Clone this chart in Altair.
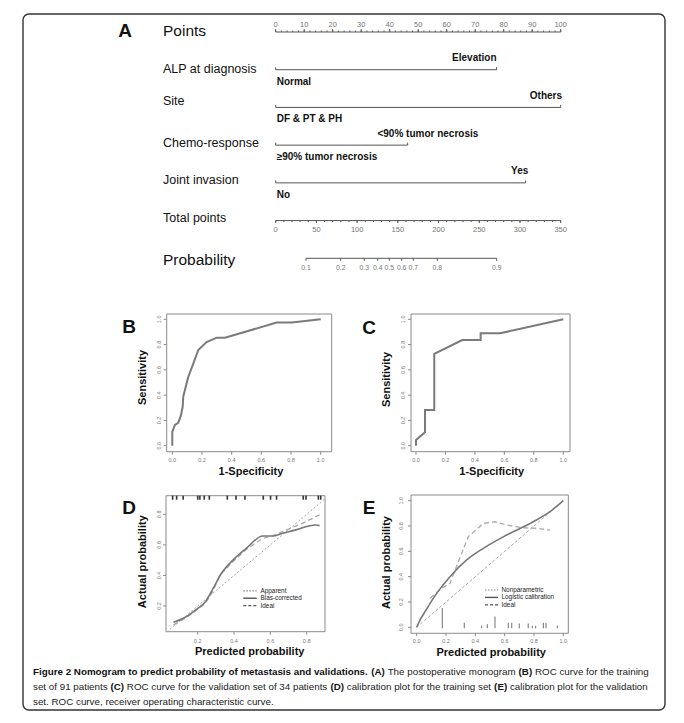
import altair as alt
import pandas as pd

M = 8                      # page margin of the browser
FONT = "Liberation Sans"


def P(v):
    """page pixel -> chart pixel"""
    return round(v - M, 2)


# ======================= DATA =======================
# ---- Panel A : nomogram ----
row_names = ["Points", "ALP at diagnosis", "Site", "Chemo-response",
             "Joint invasion", "Total points", "Probability"]
row_name_pos = [-0.034, 0.989, 1.83, 2.935, 3.924, 4.939, 6.045]
row_name_size = [15.5, 12.5, 12.5, 12.5, 12.5, 12.5, 15.5]

predictor_rows = [1, 2, 3, 4]
predictor_max_points = [77.5, 100, 46.3, 87.7]
upper_levels = ["Elevation", "Others", "<90% tumor necrosis", "Yes"]
upper_level_pos = [69.7, 94.8, 53.4, 85.6]
lower_levels = ["Normal", "DF & PT & PH", "≥90% tumor necrosis", "No"]
lower_level_pos = [0.35, 0.35, 0.35, 0.35]

points_major = [0, 10, 20, 30, 40, 50, 60, 70, 80, 90, 100]
points_minor = [0, 2, 4, 6, 8, 10, 12, 14, 16, 18, 20, 22, 24, 26, 28, 30, 32, 34,
                36, 38, 40, 42, 44, 46, 48, 50, 52, 54, 56, 58, 60, 62, 64, 66, 68,
                70, 72, 74, 76, 78, 80, 82, 84, 86, 88, 90, 92, 94, 96, 98, 100]
total_major = [0, 50, 100, 150, 200, 250, 300, 350]
total_minor = [0, 10, 20, 30, 40, 50, 60, 70, 80, 90, 100, 110, 120, 130, 140, 150,
               160, 170, 180, 190, 200, 210, 220, 230, 240, 250, 260, 270, 280, 290,
               300, 310, 320, 330, 340, 350]
prob_labels = ["0.1", "0.2", "0.3", "0.4", "0.5", "0.6", "0.7", "0.8", "0.9"]
prob_total_points = [37.2, 79.8, 108.8, 125.3, 139.5, 154.7, 169.0, 198.5, 271.4]

# ---- Panel B : ROC training ----
rocB_fpr = [0, 0, 0.018, 0.04, 0.058, 0.07, 0.074, 0.108, 0.142, 0.175, 0.231, 0.30,
            0.355, 0.703, 0.805, 1.0]
rocB_tpr = [0, 0.11, 0.164, 0.18, 0.24, 0.31, 0.39, 0.546, 0.652, 0.757, 0.82, 0.855,
            0.855, 0.974, 0.974, 1.0]

# ---- Panel C : ROC validation ----
rocC_fpr = [0, 0, 0.061, 0.061, 0.124, 0.124, 0.314, 0.439, 0.439, 0.57, 1.0]
rocC_tpr = [0, 0.045, 0.106, 0.282, 0.282, 0.726, 0.836, 0.836, 0.889, 0.889, 1.0]

# ---- Panel D : calibration training ----
calD_bc_pred = [0.067, 0.131, 0.195, 0.24, 0.285, 0.331, 0.404, 0.467, 0.558, 0.613,
                0.667, 0.74, 0.813, 0.849, 0.871]
calD_bc_act = [0.093, 0.126, 0.18, 0.224, 0.316, 0.414, 0.512, 0.577, 0.658, 0.658,
               0.676, 0.698, 0.724, 0.73, 0.726]
calD_app_pred = [0.067, 0.131, 0.195, 0.24, 0.285, 0.322, 0.404, 0.467, 0.558, 0.613,
                 0.667, 0.776, 0.871]
calD_app_act = [0.076, 0.12, 0.174, 0.215, 0.3, 0.403, 0.502, 0.57, 0.643, 0.66,
                0.687, 0.741, 0.796]
ideal_D = [0.03, 0.9]
rugD = [0.062, 0.084, 0.12, 0.2, 0.212, 0.236, 0.264, 0.363, 0.411, 0.46, 0.561,
        0.601, 0.634, 0.781, 0.796, 0.864, 0.877]

# ---- Panel E : calibration validation ----
calE_log_pred = [0, 0.023, 0.057, 0.136, 0.227, 0.341, 0.455, 0.614, 0.795, 0.909, 1.0]
calE_log_act = [0, 0.058, 0.124, 0.268, 0.4, 0.532, 0.624, 0.729, 0.834, 0.913, 1.0]
calE_np_pred = [0.091, 0.17, 0.227, 0.284, 0.352, 0.455, 0.534, 0.614, 0.716, 0.818, 0.909]
calE_np_act = [0.229, 0.308, 0.347, 0.518, 0.716, 0.821, 0.834, 0.808, 0.787, 0.782, 0.768]
ideal_E = [0.0, 1.0]
spikeE_pos = [0.175, 0.325, 0.443, 0.482, 0.534, 0.625, 0.648, 0.7, 0.761, 0.789,
              0.811, 0.864, 0.882, 0.959]
spikeE_h = [0.153, 0.035, 0.015, 0.025, 0.085, 0.035, 0.035, 0.03, 0.03, 0.012,
            0.012, 0.035, 0.035, 0.015]

unit_ticks = [0, 0.2, 0.4, 0.6, 0.8, 1.0]
unit_tick_labels = ["0.0", "0.2", "0.4", "0.6", "0.8", "1.0"]
cal_ticks = [0.2, 0.4, 0.6, 0.8]
cal_tick_labels = ["0.2", "0.4", "0.6", "0.8"]

caption_lines = [
    [("Figure 2 Nomogram to predict probability of metastasis and validations.", True),
     (" (A)", True), (" The postoperative monogram ", False), ("(B)", True),
     (" ROC curve for the training", False)],
    [("set of 91 patients ", False), ("(C)", True),
     (" ROC curve for the validation set of 34 patients ", False), ("(D)", True),
     (" calibration plot for the training set ", False), ("(E)", True),
     (" calibration plot for the validation", False)],
    [("set. ROC curve, receiver operating characteristic curve.", False)],
]

# ======================= LAYOUT (page pixels) =======================
A_X = (275.7, 560.7)
A_Y = (32.0, 258.3)
GEOM = {
    "B": dict(frame=(166.7, 331.7, 314, 451.7), xr=(172.3, 320.7), yr=(445.7, 319.3),
              dom=(0, 1), xlab_y=460, ylab_x=159.3),
    "C": dict(frame=(411, 570, 314, 451.7), xr=(416, 563.3), yr=(445.7, 319.3),
              dom=(0, 1), xlab_y=460, ylab_x=403.3),
    "D": dict(frame=(166, 325, 495.7, 631.7), xr=(197.7, 306.7), yr=(606, 514.3),
              dom=(0.2, 0.8), xlab_y=641, ylab_x=159.3),
    "E": dict(frame=(411, 568.3, 495, 633.3), xr=(416.7, 563.3), yr=(627.3, 500.7),
              dom=(0, 1), xlab_y=641, ylab_x=400.5),
}

LINE_C = "#555"
TICKLAB_C = "#777"
FRAME_C = "#8a8a8a"


def sc(domain, rng):
    return alt.Scale(domain=list(domain), range=[P(rng[0]), P(rng[1])], nice=False, zero=False)


def X(f, s):
    return alt.X(f, scale=s, axis=None)


def Y(f, s):
    return alt.Y(f, scale=s, axis=None)


ONE = pd.DataFrame({"k": [0]})


def label(text, x, y, size, weight="normal", angle=0, align="center", color="#111"):
    kw = dict(align=align, baseline="middle", fontSize=size, fontWeight=weight, color=color)
    if angle:
        kw["angle"] = angle
    return alt.Chart(pd.DataFrame({"t": [text]})).mark_text(**kw).encode(
        x=alt.value(P(x)), y=alt.value(P(y)), text="t:N")


def hline(x1, x2, y, color, width=1.0, dash=None):
    kw = dict(color=color, strokeWidth=width)
    if dash:
        kw["strokeDash"] = dash
    return alt.Chart(ONE).mark_rule(**kw).encode(
        x=alt.value(P(x1)), x2=alt.value(P(x2)), y=alt.value(P(y)))


# ======================= PANEL A =======================
xA = sc((0, 100), A_X)
xT = sc((0, 350), A_X)
yA = sc((0, 6), A_Y)

dfA_lines = pd.DataFrame({"row": [0] + predictor_rows, "s": 0.0,
                          "e": [100] + predictor_max_points})
dfA_ends = pd.DataFrame({"row": predictor_rows * 2,
                         "v": [0] * len(predictor_rows) + predictor_max_points})
dfA_maj = pd.DataFrame({"v": points_major, "row": 0, "lab": [str(v) for v in points_major]})
dfA_min = pd.DataFrame({"v": points_minor, "row": 0})
dfA_names = pd.DataFrame({"t": row_names, "ry": row_name_pos, "fs": row_name_size})
dfA_up = pd.DataFrame({"t": upper_levels, "row": predictor_rows, "v": upper_level_pos})
dfA_lo = pd.DataFrame({"t": lower_levels, "row": predictor_rows, "v": lower_level_pos})

panelA = alt.layer(
    alt.Chart(dfA_lines).mark_rule(color=LINE_C, strokeWidth=1).encode(
        x=X("s:Q", xA), x2=alt.X2("e"), y=Y("row:Q", yA)),
    alt.Chart(dfA_ends).mark_rule(color=LINE_C, strokeWidth=1, y2Offset=-2.5).encode(
        x=X("v:Q", xA), y=Y("row:Q", yA), y2=alt.Y2("row")),
    alt.Chart(dfA_min).mark_rule(color=LINE_C, strokeWidth=1, y2Offset=-1.5).encode(
        x=X("v:Q", xA), y=Y("row:Q", yA), y2=alt.Y2("row")),
    alt.Chart(dfA_maj).mark_rule(color=LINE_C, strokeWidth=1, y2Offset=-3).encode(
        x=X("v:Q", xA), y=Y("row:Q", yA), y2=alt.Y2("row")),
    alt.Chart(dfA_maj).mark_text(fontSize=7.5, color=TICKLAB_C, dy=-7, baseline="middle").encode(
        x=X("v:Q", xA), y=Y("row:Q", yA), text="lab:N"),
    alt.Chart(dfA_names).mark_text(align="left", baseline="middle", color="#111").encode(
        x=alt.value(P(163)), y=Y("ry:Q", yA), text="t:N",
        size=alt.Size("fs:Q", scale=None, legend=None)),
    alt.Chart(dfA_up).mark_text(align="center", baseline="middle", dy=-11.5, fontSize=10,
                                fontWeight="bold", color="#111").encode(
        x=X("v:Q", xA), y=Y("row:Q", yA), text="t:N"),
    alt.Chart(dfA_lo).mark_text(align="left", baseline="middle", dy=12, fontSize=10,
                                fontWeight="bold", color="#111").encode(
        x=X("v:Q", xA), y=Y("row:Q", yA), text="t:N"),
)

dfT_line = pd.DataFrame({"s": [0], "e": [350], "row": [5]})
dfT_maj = pd.DataFrame({"v": total_major, "row": 5, "lab": [str(v) for v in total_major]})
dfT_min = pd.DataFrame({"v": total_minor, "row": 5})
dfP_line = pd.DataFrame({"s": [prob_total_points[0]], "e": [prob_total_points[-1]], "row": [6]})
dfP = pd.DataFrame({"v": prob_total_points, "row": 6, "lab": prob_labels})

panelT = alt.layer(
    alt.Chart(dfT_line).mark_rule(color=LINE_C, strokeWidth=1).encode(
        x=X("s:Q", xT), x2=alt.X2("e"), y=Y("row:Q", yA)),
    alt.Chart(dfT_min).mark_rule(color=LINE_C, strokeWidth=1, y2Offset=1.5).encode(
        x=X("v:Q", xT), y=Y("row:Q", yA), y2=alt.Y2("row")),
    alt.Chart(dfT_maj).mark_rule(color=LINE_C, strokeWidth=1, y2Offset=2.5).encode(
        x=X("v:Q", xT), y=Y("row:Q", yA), y2=alt.Y2("row")),
    alt.Chart(dfT_maj).mark_text(fontSize=7.5, color=TICKLAB_C, dy=9.5, baseline="middle").encode(
        x=X("v:Q", xT), y=Y("row:Q", yA), text="lab:N"),
    alt.Chart(dfP_line).mark_rule(color=LINE_C, strokeWidth=1).encode(
        x=X("s:Q", xT), x2=alt.X2("e"), y=Y("row:Q", yA)),
    alt.Chart(dfP).mark_rule(color=LINE_C, strokeWidth=1, y2Offset=2.5).encode(
        x=X("v:Q", xT), y=Y("row:Q", yA), y2=alt.Y2("row")),
    alt.Chart(dfP).mark_text(fontSize=6.8, color=TICKLAB_C, dy=9.5, baseline="middle").encode(
        x=X("v:Q", xT), y=Y("row:Q", yA), text="lab:N"),
)


# ======================= XY PANELS =======================
def curve_df(xs, ys):
    return pd.DataFrame({"x": xs, "y": ys, "i": list(range(len(xs)))})


def xy_panel(key, ticks, tick_labels, curves, extra=()):
    g = GEOM[key]
    l, r, t, b = g["frame"]
    xs = sc(g["dom"], g["xr"])
    ys = sc(g["dom"], g["yr"])
    dft = pd.DataFrame({"v": ticks, "lab": tick_labels})
    parts = [
        alt.Chart(ONE).mark_rect(fillOpacity=0, stroke=FRAME_C, strokeWidth=1).encode(
            x=alt.value(P(l)), x2=alt.value(P(r)), y=alt.value(P(t)), y2=alt.value(P(b))),
        alt.Chart(dft).mark_rule(color=FRAME_C, strokeWidth=1).encode(
            x=X("v:Q", xs), y=alt.value(P(b)), y2=alt.value(P(b + 3))),
        alt.Chart(dft).mark_text(fontSize=5.5, color=TICKLAB_C, baseline="middle").encode(
            x=X("v:Q", xs), y=alt.value(P(g["xlab_y"])), text="lab:N"),
        alt.Chart(dft).mark_rule(color=FRAME_C, strokeWidth=1).encode(
            y=Y("v:Q", ys), x=alt.value(P(l - 3)), x2=alt.value(P(l))),
        alt.Chart(dft).mark_text(fontSize=5.5, color=TICKLAB_C, baseline="middle", angle=270).encode(
            y=Y("v:Q", ys), x=alt.value(P(g["ylab_x"])), text="lab:N"),
    ]
    for df, style in curves:
        parts.append(alt.Chart(df).mark_line(**style).encode(
            x=X("x:Q", xs), y=Y("y:Q", ys), order=alt.Order("i:Q")))
    for fn in extra:
        parts.append(fn(xs, ys))
    return alt.layer(*parts)


roc_style = dict(color="#7a7a7a", strokeWidth=2)
panelB = xy_panel("B", unit_ticks, unit_tick_labels, [(curve_df(rocB_fpr, rocB_tpr), roc_style)])
panelC = xy_panel("C", unit_ticks, unit_tick_labels, [(curve_df(rocC_fpr, rocC_tpr), roc_style)])


def rugD_layer(xs, ys):
    top = GEOM["D"]["frame"][2]
    return alt.Chart(pd.DataFrame({"v": rugD})).mark_rule(color="#333", strokeWidth=1.6).encode(
        x=X("v:Q", xs), y=alt.value(P(top)), y2=alt.value(P(top + 4)))


panelD = xy_panel("D", cal_ticks, cal_tick_labels, [
    (curve_df(ideal_D, ideal_D), dict(color="#aaa", strokeWidth=1, strokeDash=[2, 2])),
    (curve_df(calD_app_pred, calD_app_act), dict(color="#aaa", strokeWidth=1.4, strokeDash=[5, 3])),
    (curve_df(calD_bc_pred, calD_bc_act), dict(color="#777", strokeWidth=1.6, interpolate="monotone")),
], extra=[rugD_layer])


def spikesE_layer(xs, ys):
    df = pd.DataFrame({"v": spikeE_pos, "h": spikeE_h, "b": -0.008})
    return alt.Chart(df).mark_rule(color="#888", strokeWidth=1.2).encode(
        x=X("v:Q", xs), y=Y("b:Q", ys), y2=alt.Y2("h"))


panelE = xy_panel("E", unit_ticks, unit_tick_labels, [
    (curve_df(ideal_E, ideal_E), dict(color="#aaa", strokeWidth=1, strokeDash=[3, 2])),
    (curve_df(calE_np_pred, calE_np_act), dict(color="#b0b0b0", strokeWidth=1.4, strokeDash=[5, 3])),
    (curve_df(calE_log_pred, calE_log_act), dict(color="#777", strokeWidth=1.6, interpolate="monotone")),
], extra=[spikesE_layer])

# ======================= TEXT DECORATION =======================
LEG_FS = 6.4
LEG_D_Y = [590.8, 598.2, 605.6]
LEG_E_Y = [590.0, 597.4, 604.8]
deco = [
    alt.Chart(ONE).mark_rect(fillOpacity=0, stroke="#333", strokeWidth=1.4, cornerRadius=6).encode(
        x=alt.value(P(23)), x2=alt.value(P(665)), y=alt.value(P(14)), y2=alt.value(P(710))),
    label("A", 125, 31, 19, "bold"),
    label("B", 129, 326.5, 19, "bold"),
    label("C", 369, 327.5, 19, "bold"),
    label("D", 129, 507.5, 19, "bold"),
    label("E", 369, 507.5, 19, "bold"),
    label("Sensitivity", 143.3, 377.5, 11, "bold", angle=270),
    label("1-Specificity", 251, 471.7, 11, "bold"),
    label("Sensitivity", 387.3, 379.5, 11, "bold", angle=270),
    label("1-Specificity", 491.7, 471.7, 11, "bold"),
    label("Actual probability", 143.3, 561.7, 11, "bold", angle=270),
    label("Predicted probability", 249.7, 651.7, 11, "bold"),
    label("Actual probability", 387.3, 562.5, 11, "bold", angle=270),
    label("Predicted probability", 491.2, 653.3, 11, "bold"),
    # legend D
    hline(243.3, 256.7, LEG_D_Y[0], "#888", 1.2, [1.5, 1.5]),
    hline(243.3, 256.7, LEG_D_Y[1], "#555", 1.4),
    hline(243.3, 256.7, LEG_D_Y[2], "#555", 1.2, [3, 2]),
    label("Apparent", 260.5, LEG_D_Y[0], LEG_FS, align="left", color="#222"),
    label("Bias-corrected", 260.5, LEG_D_Y[1], LEG_FS, align="left", color="#222"),
    label("Ideal", 260.5, LEG_D_Y[2], LEG_FS, align="left", color="#222"),
    # legend E
    hline(485, 498, LEG_E_Y[0], "#888", 1.2, [1.5, 1.5]),
    hline(485, 498, LEG_E_Y[1], "#555", 1.4),
    hline(485, 498, LEG_E_Y[2], "#555", 1.2, [3, 2]),
    label("Nonparametric", 501.5, LEG_E_Y[0], LEG_FS, align="left", color="#222"),
    label("Logistic calibration", 501.5, LEG_E_Y[1], LEG_FS, align="left", color="#222"),
    label("Ideal", 501.5, LEG_E_Y[2], LEG_FS, align="left", color="#222"),
]

# ======================= CAPTION =======================
_W_REG = {}
for chars, w in [("ijl", 222), (" ftI.,:;!/", 278), ("r()-", 333), ("cksvxyzJ", 500),
                 ("abdeghnopqu0123456789L", 556), ("<>=+≥", 584), ("FTZ", 611),
                 ("ABEKPSVXY&", 667), ("CDHNRUw", 722), ("GOQ", 778), ("mM", 833),
                 ("%", 889), ("W", 944)]:
    for ch in chars:
        _W_REG[ch] = w
_W_BOLD = {}
for chars, w in [(" ijl.,:;!/I", 278), ("ft()-", 333), ("r", 389), ("z", 500),
                 ("acesvxyk0123456789J", 556), ("bdghnopquLFTZ", 611), ("EPSVXY", 667),
                 ("ABCDHKNRU&", 722), ("GOQw", 778), ("M", 833), ("m%", 889), ("W", 944)]:
    for ch in chars:
        _W_BOLD[ch] = w


def units(s, bold):
    tbl = _W_BOLD if bold else _W_REG
    return sum(tbl.get(ch, 556) for ch in s)


CAP_X0, CAP_X1 = 33.0, 648.0
CAP_Y = [671.5, 686.5, 701.5]
cap_fs = (CAP_X1 - CAP_X0) * 1000.0 / sum(units(s, b) for s, b in caption_lines[1])
rows = []
for li, segs in enumerate(caption_lines):
    cur = CAP_X0
    for s, b in segs:
        lead = len(s) - len(s.lstrip(" "))
        rows.append({"t": s.strip(" "), "x": P(cur + units(" " * lead, b) * cap_fs / 1000.0),
                     "y": P(CAP_Y[li]), "bold": b})
        cur += units(s, b) * cap_fs / 1000.0
df_cap = pd.DataFrame(rows)

caption = alt.layer(
    alt.Chart(df_cap[~df_cap["bold"]]).mark_text(align="left", baseline="middle",
                                                 fontSize=cap_fs, color="#222").encode(
        x=alt.X("x:Q", scale=None, axis=None), y=alt.Y("y:Q", scale=None, axis=None), text="t:N"),
    alt.Chart(df_cap[df_cap["bold"]]).mark_text(align="left", baseline="middle",
                                                fontSize=cap_fs, fontWeight="bold", color="#111").encode(
        x=alt.X("x:Q", scale=None, axis=None), y=alt.Y("y:Q", scale=None, axis=None), text="t:N"),
)

chart = alt.layer(panelA, panelT, panelB, panelC, panelD, panelE, caption, *deco).resolve_scale(
    x="independent", y="independent"
).properties(
    width=668, height=707, padding=0, background="white",
    autosize=alt.AutoSizeParams(type="none"),
).configure_view(stroke=None).configure_text(font=FONT)

chart.save("out.html", embed_options={"renderer": "svg", "actions": False})
